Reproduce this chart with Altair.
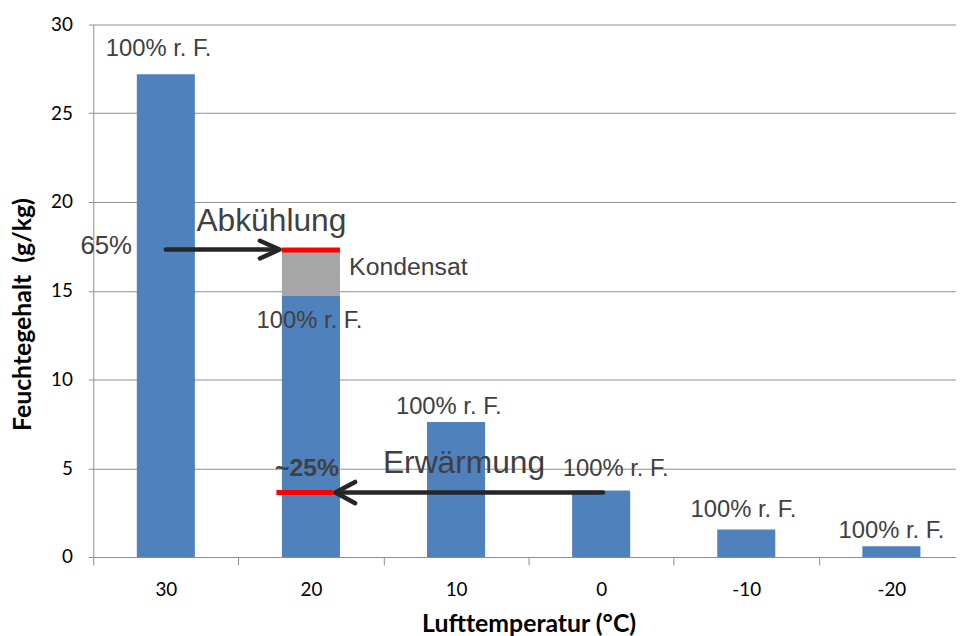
import altair as alt
import pandas as pd

# ---- data ----
temps = ["30", "20", "10", "0", "-10", "-20"]
moisture = [27.2, 14.7, 7.6, 3.75, 1.55, 0.6]      # g/kg at 100% r. F.

cond_cat = "20"
cond_low = 14.7
cond_high = 17.3

# annotation positions (x in band units: band i spans [i, i+1]; y in g/kg)
rf_text = ["100% r. F."] * 6
rf_x = [0.45, 1.49, 2.45, 3.60, 4.48, 5.50]
rf_y = [28.2, 12.9, 8.04, 4.58, 2.23, 1.06]

big_text = ["Abkühlung", "Erwärmung"]
big_x = [0.711, 1.996]
big_y = [18.38, 4.75]

kond_text = ["Kondensat"]
kond_x = [1.763]
kond_y = [15.87]

pct65_text = ["65%"]
pct65_x = [0.267]
pct65_y = [17.09]

pct25_text = ["~25%"]
pct25_x = [1.473]
pct25_y = [4.58]

# red marker lines
red_x = [1.3, 1.262]
red_x2 = [1.7, 1.651]
red_y = [17.3, 3.63]

# arrows: shaft + chevron head
arrow_grp = ["a1", "a1", "h1", "h1", "h1", "a2", "a2", "h2", "h2", "h2"]
arrow_ord = [0, 1, 0, 1, 2, 0, 1, 0, 1, 2]
arrow_x = [0.50, 1.27, 1.148, 1.284, 1.148, 3.513, 1.68, 1.805, 1.668, 1.805]
arrow_y = [17.32, 17.32, 17.82, 17.32, 16.82, 3.63, 3.63, 4.23, 3.63, 3.03]

# ---- layout ----
PLOT_W = 870
RANGE_W = 878
PLOT_H = 537
GRID = "#8E8E8E"
TXT = "#404040"

bars_df = pd.DataFrame({"t": temps, "y": moisture})
cond_df = pd.DataFrame({"t": [cond_cat], "y": [cond_low], "y2": [cond_high]})

yenc = alt.Y(
    "y:Q",
    scale=alt.Scale(domain=[0, 30], nice=False, zero=True),
    axis=alt.Axis(
        values=[0, 5, 10, 15, 20, 25, 30],
        title="Feuchtegehalt\u00a0 (g/kg)",
        grid=True, gridColor=GRID, gridWidth=1,
        domainColor=GRID, tickColor=GRID, tickSize=5,
        labelFont="Lato", labelFontSize=19, labelColor="black", labelPadding=16,
        titleFont="Lato", titleFontSize=25, titleFontWeight="bold", titleColor="black",
        titleX=-58, titleY=292,
    ),
)

xband = alt.X(
    "t:N", sort=temps,
    scale=alt.Scale(range=[0, RANGE_W], paddingInner=0, paddingOuter=0),
    axis=alt.Axis(
        title="Lufttemperatur (°C)", labelAngle=0, tickBand="extent",
        domainColor=GRID, tickColor=GRID, tickSize=8,
        labelFont="Lato", labelFontSize=19, labelColor="black", labelPadding=16,
        titleFont="Lato", titleFontSize=25, titleFontWeight="bold", titleColor="black",
        titlePadding=12, grid=False,
    ),
)

bars = alt.Chart(bars_df).mark_bar(color="#4F81BD", width=alt.RelativeBandSize(0.4)).encode(
    x=xband, y=yenc)
cond = alt.Chart(cond_df).mark_bar(color="#A6A6A6", width=alt.RelativeBandSize(0.4)).encode(
    x=xband, y=yenc, y2=alt.Y2("y2:Q"))

band_layer = alt.layer(bars, cond)

xq = alt.X("x:Q", scale=alt.Scale(domain=[0, 6], range=[0, RANGE_W], nice=False, zero=False), axis=None)

red_df = pd.DataFrame({"x": red_x, "x2": red_x2, "y": red_y})
red = alt.Chart(red_df).mark_rule(color="#FF0000", strokeWidth=5).encode(
    x=xq, x2=alt.X2("x2:Q"), y=yenc)

arrow_df = pd.DataFrame({"g": arrow_grp, "o": arrow_ord, "x": arrow_x, "y": arrow_y})
arrows = alt.Chart(arrow_df).mark_line(color="#262626", strokeWidth=4.5, strokeCap="round", strokeJoin="round").encode(
    x=xq, y=yenc, detail="g:N", order="o:Q")

def text_layer(texts, xs, ys, size, align, weight="normal"):
    df = pd.DataFrame({"txt": texts, "x": xs, "y": ys})
    return alt.Chart(df).mark_text(
        font="Liberation Sans", fontSize=size, color=TXT, align=align,
        baseline="alphabetic", fontWeight=weight,
    ).encode(x=xq, y=yenc, text="txt:N")

rf = text_layer(rf_text, rf_x, rf_y, 24, "center")
big = text_layer(big_text, big_x, big_y, 32, "left")
kond = text_layer(kond_text, kond_x, kond_y, 25, "left")
p65 = text_layer(pct65_text, pct65_x, pct65_y, 26, "right")
p25 = text_layer(pct25_text, pct25_x, pct25_y, 25, "center", "bold")

overlay = alt.layer(red, arrows, rf, big, kond, p65, p25)

chart = alt.layer(band_layer, overlay).resolve_scale(x="independent").properties(
    width=PLOT_W, height=PLOT_H,
    autosize=alt.AutoSizeParams(type="none"),
    padding={"left": 86, "top": 14, "right": 0, "bottom": 77},
).configure_view(stroke=None)

chart.save("out.html", embed_options={"renderer": "svg", "actions": False})
